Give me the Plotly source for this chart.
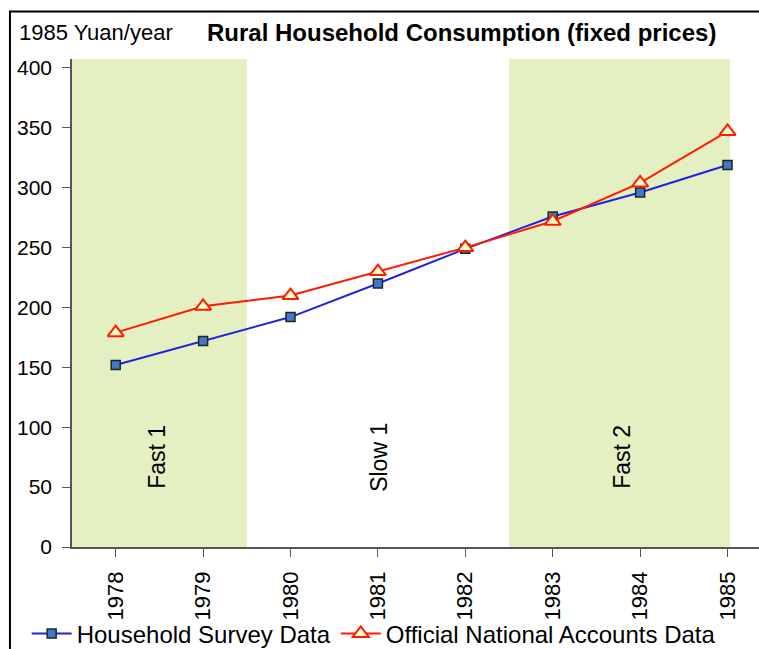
import plotly.graph_objects as go

FONT = "Liberation Sans, Arial, sans-serif"

years = ["1978", "1979", "1980", "1981", "1982", "1983", "1984", "1985"]
household_survey = [152, 172, 192, 220, 249, 276, 296, 319]
national_accounts = [179, 201, 210, 230, 250, 272, 304, 347]

# shaded growth phases (category positions) and their labels
phases = [("Fast 1", -0.5, 1.5, 0.48), ("Slow 1", None, None, 3.02), ("Fast 2", 4.5, 7.03, 5.8)]
y_ticks = [0, 50, 100, 150, 200, 250, 300, 350, 400]

fig = go.Figure()

for label, x0, x1, xc in phases:
    if x0 is not None:
        fig.add_shape(type="rect", xref="x", yref="y", x0=x0, x1=x1, y0=0, y1=407.5,
                      fillcolor="#E4F0C2", line=dict(width=0), layer="below")
    fig.add_annotation(x=xc, y=75, text=label, showarrow=False, textangle=-90,
                       font=dict(family=FONT, size=23, color="black"))

fig.add_trace(go.Scatter(
    x=list(range(len(years))), y=household_survey, mode="lines+markers",
    name="Household Survey Data",
    line=dict(color="#2222DD", width=2),
    marker=dict(symbol="square", size=9, color="#4477CC", line=dict(color="#1A2A1A", width=1.5)),
))
fig.add_trace(go.Scatter(
    x=list(range(len(years))), y=national_accounts, mode="lines+markers",
    name="Official National Accounts Data",
    line=dict(color="#FF1A00", width=2),
    marker=dict(symbol="triangle-up", size=14, color="#FFFFD0", line=dict(color="#FF1A00", width=2)),
))

# outer chart frame
fig.add_shape(type="rect", xref="paper", yref="paper", x0=-0.0903, x1=1.05, y0=-0.4, y1=1.0973,
              line=dict(color="black", width=2), fillcolor="rgba(0,0,0,0)")

fig.add_annotation(xref="paper", yref="paper", x=-0.0794, y=1.0533, xanchor="left", yanchor="middle",
                   text="1985 Yuan/year", showarrow=False,
                   font=dict(family=FONT, size=22, color="black"))
fig.add_annotation(xref="paper", yref="paper", x=0.567, y=1.0533, xanchor="center", yanchor="middle",
                   text="<b>Rural Household Consumption (fixed prices)</b>", showarrow=False,
                   font=dict(family=FONT, size=24, color="black"))

fig.update_layout(
    width=759, height=649,
    margin=dict(l=72, r=0, t=59, b=102, autoexpand=False),
    paper_bgcolor="white", plot_bgcolor="white",
    font=dict(family=FONT, size=20, color="black"),
    showlegend=True,
    legend=dict(orientation="h", x=-0.066, xanchor="left", y=-0.178, yanchor="middle",
                font=dict(family=FONT, size=24), bgcolor="rgba(0,0,0,0)",
                itemwidth=40, tracegroupgap=0),
)
fig.update_xaxes(
    range=[-0.5, 7.36], tickmode="array", tickvals=list(range(len(years))), ticktext=years,
    tickangle=-90, ticks="outside", ticklen=8, tickcolor="#555555", tickson="boundaries",
    showline=True, linecolor="#555555", linewidth=1.5, showgrid=False, zeroline=False,
    tickfont=dict(family=FONT, size=22), ticklabelstandoff=6,
)
fig.update_yaxes(
    range=[0, 407.5], tickvals=y_ticks, ticks="outside", ticklen=8, tickcolor="#555555",
    showline=True, linecolor="#555555", linewidth=1.5, showgrid=False, zeroline=False,
    tickfont=dict(family=FONT, size=21), ticklabelstandoff=6,
)

fig.write_html("out.html", config={"displayModeBar": False},
               post_script="document.body.style.margin='0';")
